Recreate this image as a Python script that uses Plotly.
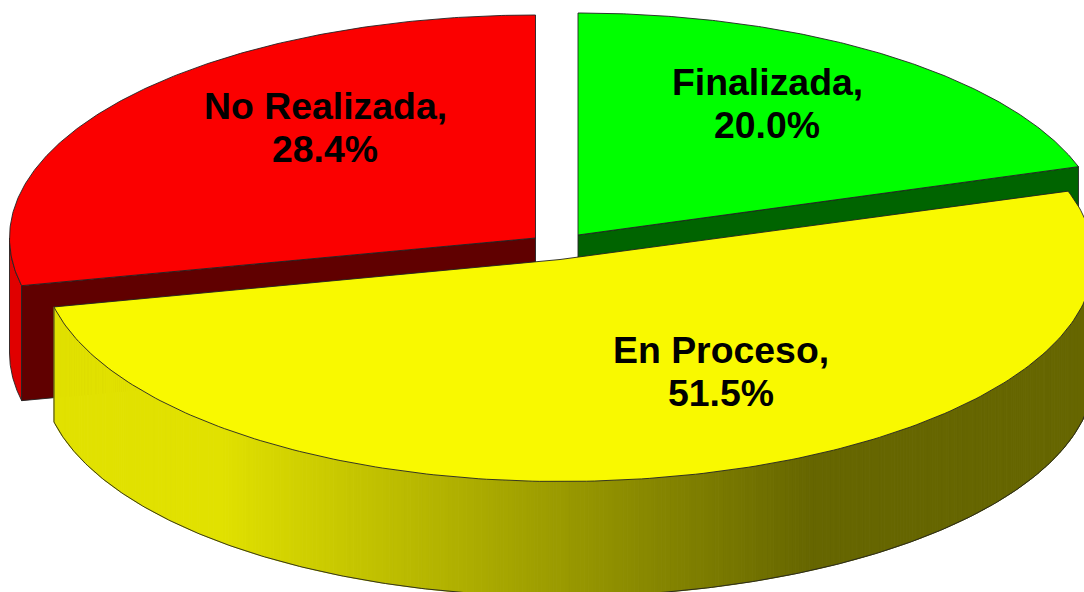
import numpy as np
import plotly.graph_objects as go

categories = ["Finalizada", "En Proceso", "No Realizada"]
percent_values = [20.0, 51.5, 28.4]
percent_labels = ["20.0%", "51.5%", "28.4%"]

# Presentation settings (pixel-space projection of the tilted pie)
W, H = 1084, 592
DEPTH = 115
TOP_COLORS = ["#00ff00", "#f9f900", "#fb0000"]
CUT_COLORS = ["#006400", "#666600", "#600000"]
OUTLINE = "#222222"
SLICE_GEOM = [
    dict(cx=578, cy=235, a_left=526, a_right=526, b=222),
    dict(cx=560, cy=259.5, a_left=518, a_right=534, b=222),
    dict(cx=535.5, cy=238, a_left=526, a_right=526, b=223),
]
LABEL_POS = [(767, 82, 125), (721, 350, 393), (325, 106, 149)]

total = sum(percent_values)
edges = np.concatenate([[0], np.cumsum(percent_values)]) / total * 2 * np.pi


def project(theta, g, drop=0.0):
    s, c = np.sin(theta), np.cos(theta)
    a = np.where(s >= 0, g["a_right"], g["a_left"])
    return g["cx"] + a * s, g["cy"] - g["b"] * c + drop


fig = go.Figure()


def poly(x, y, fill, line=OUTLINE, width=0.9):
    fig.add_trace(go.Scatter(
        x=list(x) + [x[0]], y=list(y) + [y[0]], mode="lines", fill="toself",
        fillcolor=fill, line=dict(color=line, width=width),
        hoverinfo="skip", showlegend=False,
    ))


def wedge(i, drop=0.0):
    g = SLICE_GEOM[i]
    th = np.linspace(edges[i], edges[i + 1], 220)
    x, y = project(th, g, drop)
    return np.r_[g["cx"], x], np.r_[g["cy"] + drop, y]


def cut_face(i, theta, color):
    g = SLICE_GEOM[i]
    ex, ey = project(np.array(theta), g)
    poly([g["cx"], float(ex), float(ex), g["cx"]],
         [g["cy"], float(ey), float(ey) + DEPTH, g["cy"] + DEPTH], color)


# --- No Realizada (back-left, drawn first) ---
g = SLICE_GEOM[2]
th = np.linspace(edges[2], 1.5 * np.pi, 60)
sx, sy = project(th, g)
poly(np.r_[sx, sx[::-1]], np.r_[sy, sy[::-1] + DEPTH], "#e00000")
cut_face(2, edges[2], CUT_COLORS[2])
x, y = wedge(2)
poly(x, y, TOP_COLORS[2])

# --- Finalizada ---
cut_face(0, edges[1], CUT_COLORS[0])
x, y = wedge(0)
poly(x, y, TOP_COLORS[0])

# --- En Proceso: front rim with horizontal shading, then the top ---
g = SLICE_GEOM[1]
th = np.linspace(np.pi / 2, edges[2], 400)


def shade(px):
    level = 225 if px < 220 else max(102, 225 - (px - 220) * 0.208)
    return f"rgb({level:.0f},{level:.0f},0)"


tx, ty = project(th, g)
for k in range(len(th) - 1):
    qx = [tx[k], tx[k + 1], tx[k + 1], tx[k]]
    qy = [ty[k], ty[k + 1], ty[k + 1] + DEPTH, ty[k] + DEPTH]
    col = shade((tx[k] + tx[k + 1]) / 2)
    poly(qx, qy, col, line=col, width=1)
# rim outline
fig.add_trace(go.Scatter(
    x=np.r_[tx[-1], tx[-1], tx[::-1]], y=np.r_[ty[-1], ty[-1] + DEPTH, ty[::-1] + DEPTH],
    mode="lines", line=dict(color=OUTLINE, width=0.9), hoverinfo="skip", showlegend=False,
))
x, y = wedge(1)
poly(x, y, TOP_COLORS[1])

for name, label, (lx, y1, y2) in zip(categories, percent_labels, LABEL_POS):
    for txt, ly in ((name + ",", y1), (label, y2)):
        fig.add_annotation(x=lx, y=ly, text=f"<b>{txt}</b>", showarrow=False,
                           xanchor="center", yanchor="middle",
                           font=dict(family="Liberation Sans", size=37.4, color="#000000"))

fig.update_layout(
    width=W, height=H, margin=dict(l=0, r=0, t=0, b=0),
    paper_bgcolor="white", plot_bgcolor="white", showlegend=False,
    xaxis=dict(range=[0, W], visible=False, fixedrange=True),
    yaxis=dict(range=[H, 0], visible=False, fixedrange=True),
)
fig.write_html("out.html", config={"displayModeBar": False},
               post_script="document.body.style.margin='0';document.body.style.overflow='hidden';")
